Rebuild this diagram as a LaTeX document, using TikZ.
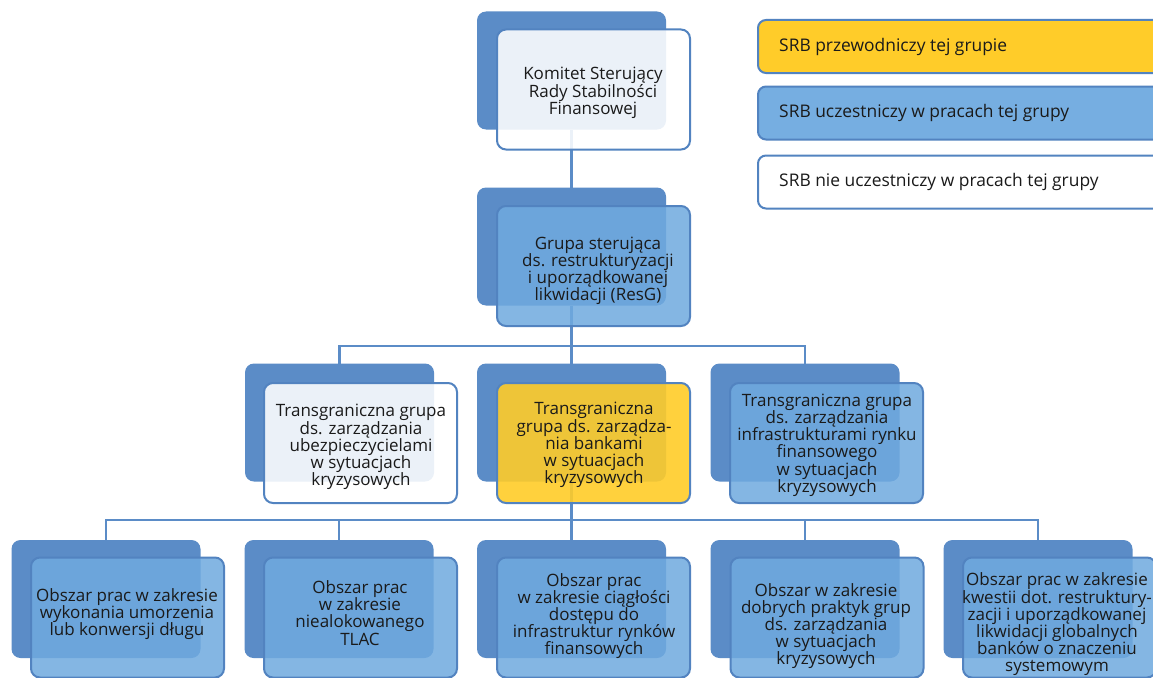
\documentclass[tikz,border=0pt]{standalone}
\usepackage{fontspec}
\setmainfont{Open Sans}
\definecolor{backblue}{HTML}{5B8CC7}
\definecolor{edgeblue}{HTML}{5283C0}
\definecolor{fillblue}{HTML}{6FAADF}
\definecolor{fillyellow}{HTML}{FFCC29}
\definecolor{txt}{HTML}{1A1A1A}
\begin{document}
\begin{tikzpicture}[x=1pt,y=-1pt,
  backbox/.style={fill=backblue, rounded corners=9pt, minimum width=189pt, minimum height=118pt, inner sep=0pt, outer sep=0pt},
  frontbox/.style={draw=edgeblue, line width=2pt, rounded corners=9pt, minimum width=193pt, minimum height=120pt, inner sep=0pt, outer sep=0pt},
  whitefront/.style={frontbox, fill=white, fill opacity=0.88},
  bluefront/.style={frontbox, fill=fillblue, fill opacity=0.85},
  yellowfront/.style={frontbox, fill=fillyellow, fill opacity=0.9},
  boxtext/.style={align=center, font=\fontsize{17}{17.2}\selectfont, text=txt, inner sep=0pt},
  link/.style={draw=backblue, line width=2.5pt},
  legendbox/.style={draw=edgeblue, line width=2pt, rounded corners=8pt, minimum width=410pt, minimum height=53pt, inner sep=0pt, anchor=west},
  legendtext/.style={anchor=west, font=\fontsize{17.4}{20}\selectfont, text=txt, inner sep=0pt}]
\useasboundingbox[fill=white] (0,0) rectangle (1153,677);

% back boxes
\node[backbox] (topb) at (571.5,70.5) {};
\node[backbox] (resgb) at (571.5,246.5) {};
\node[backbox] (l3ab) at (339.5,422.5) {};
\node[backbox] (l3bb) at (571.5,422.5) {};
\node[backbox] (l3cb) at (805,422.5) {};
\node[backbox] (c1b) at (106,599) {};
\node[backbox] (c2b) at (339,599) {};
\node[backbox] (c3b) at (571.5,599) {};
\node[backbox] (c4b) at (805,599) {};
\node[backbox] (c5b) at (1038,599) {};

% connectors
\coordinate (bus1) at (0,346);
\coordinate (bus2) at (0,520);
\draw[link] (topb.south) -- (resgb.north);
\draw[link] (resgb.south) -- (l3bb.north);
\draw[link] (l3ab.north) -- (l3ab.north |- bus1) -- (l3cb.north |- bus1) -- (l3cb.north);
\draw[link] (l3bb.south) -- (c3b.north);
\draw[link] (c1b.north) -- (c1b.north |- bus2) -- (c5b.north |- bus2) -- (c5b.north);
\draw[link] (c2b.north) -- (c2b.north |- bus2);
\draw[link] (c4b.north) -- (c4b.north |- bus2);

% front boxes
\node[whitefront] (topf) at (593.5,89.5) {};
\node[bluefront] (resgf) at (593.5,266) {};
\node[whitefront] (l3af) at (360.5,443) {};
\node[yellowfront] (l3bf) at (593.5,443) {};
\node[bluefront] (l3cf) at (826.5,443) {};
\node[bluefront] (c1f) at (127.5,617.5) {};
\node[bluefront] (c2f) at (360.5,617.5) {};
\node[bluefront] (c3f) at (593.5,617.5) {};
\node[bluefront] (c4f) at (827,617.5) {};
\node[bluefront] (c5f) at (1059.5,617.5) {};

% texts
\node[boxtext] (topt) at (593,93) {Komitet Sterujący\\Rady Stabilności\\Finansowej};
\node[boxtext] (resgt) at (598,271) {Grupa sterująca\\ds. restrukturyzacji\\i uporządkowanej\\likwidacji (ResG)};
\node[boxtext] (l3at) at (361,447) {Transgraniczna grupa\\ds. zarządzania\\ubezpieczycielami\\w sytuacjach\\kryzysowych};
\node[boxtext] (l3bt) at (594,445) {Transgraniczna\\grupa ds. zarządza-\\nia bankami\\w sytuacjach\\kryzysowych};
\node[boxtext] (l3ct) at (827,445) {Transgraniczna grupa\\ds. zarządzania\\infrastrukturami rynku\\finansowego\\w sytuacjach\\kryzysowych};
\node[boxtext] (c1t) at (127,614) {Obszar prac w zakresie\\wykonania umorzenia\\lub konwersji długu};
\node[boxtext] (c2t) at (360,613) {Obszar prac\\w zakresie\\niealokowanego\\TLAC};
\node[boxtext] (c3t) at (594,616) {Obszar prac\\w zakresie ciągłości\\dostępu do\\infrastruktur rynków\\finansowych};
\node[boxtext] (c4t) at (826,626) {Obszar w zakresie\\dobrych praktyk grup\\ds. zarządzania\\w sytuacjach\\kryzysowych};
\node[boxtext] (c5t) at (1057,624.5) {Obszar prac w zakresie\\kwestii dot. restruktury-\\zacji i uporządkowanej\\likwidacji globalnych\\banków o znaczeniu\\systemowym};

% legend
\node[legendbox, fill=fillyellow] (leg1) at (757,46.5) {};
\node[legendbox, fill=fillblue!95!white] (leg2) at (757,113) {};
\node[legendbox, fill=white] (leg3) at (757,182) {};
\node[legendtext] (leg1t) at (779,46.5) {SRB przewodniczy tej grupie};
\node[legendtext] (leg2t) at (779,113) {SRB uczestniczy w pracach tej grupy};
\node[legendtext] (leg3t) at (779,182) {SRB nie uczestniczy w pracach tej grupy};
\end{tikzpicture}
\end{document}
